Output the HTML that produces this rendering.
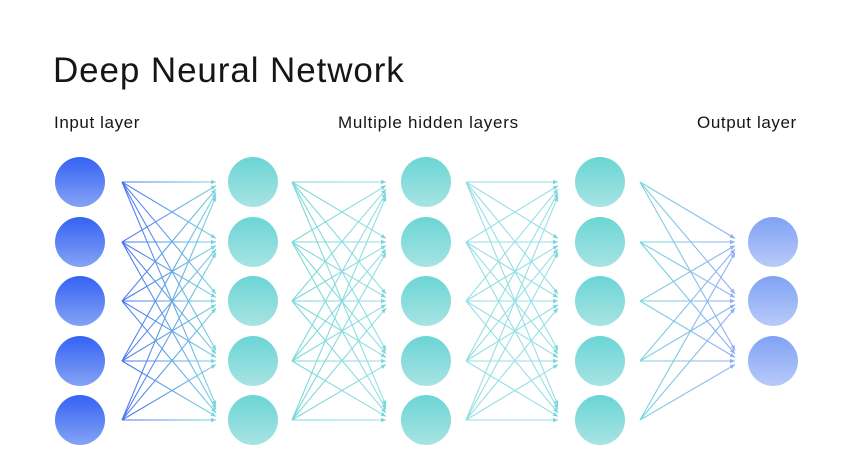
<!DOCTYPE html>
<html><head><style>
html,body{margin:0;padding:0;background:#fff;width:841px;height:476px;overflow:hidden}
</style></head><body>
<svg width="841" height="476" xmlns="http://www.w3.org/2000/svg" font-family="Liberation Sans, sans-serif">
<defs>
<linearGradient id="gi" x1="0" y1="0" x2="0" y2="1"><stop offset="0" stop-color="#3462f4"/><stop offset="1" stop-color="#85a3f5"/></linearGradient>
<linearGradient id="gh" x1="0" y1="0" x2="0" y2="1"><stop offset="0" stop-color="#6bd5d5"/><stop offset="1" stop-color="#a8e3e3"/></linearGradient>
<linearGradient id="go" x1="0" y1="0" x2="0" y2="1"><stop offset="0" stop-color="#80a2f5"/><stop offset="1" stop-color="#b8caf8"/></linearGradient>
<linearGradient id="l1" gradientUnits="userSpaceOnUse" x1="122" y1="0" x2="216" y2="0"><stop offset="0" stop-color="#4a72f4"/><stop offset="1" stop-color="#7ad6dc"/></linearGradient>
<linearGradient id="l2" gradientUnits="userSpaceOnUse" x1="292" y1="0" x2="386" y2="0"><stop offset="0" stop-color="#78d8d8"/><stop offset="1" stop-color="#96dfe5"/></linearGradient>
<linearGradient id="l4" gradientUnits="userSpaceOnUse" x1="640" y1="0" x2="735" y2="0"><stop offset="0" stop-color="#7ad6dc"/><stop offset="1" stop-color="#90adf6"/></linearGradient>
</defs>
<text x="53" y="82" font-size="35" letter-spacing="0.9" fill="#161616">Deep Neural Network</text>
<text x="54" y="128" font-size="17" letter-spacing="0.6" fill="#161616">Input layer</text>
<text x="338" y="128" font-size="17" letter-spacing="0.75" fill="#161616">Multiple hidden layers</text>
<text x="697" y="128" font-size="17" letter-spacing="0.6" fill="#161616">Output layer</text>
<g id="edges"></g>
<g id="nodes"></g>
</svg>
<script>
const ns="http://www.w3.org/2000/svg";
const five=[182,242,301,361,420], three=[242,301,361];
const E=document.getElementById('edges'),N=document.getElementById('nodes');
function line(x1,y1,x2,y2,col){
 const l=document.createElementNS(ns,'line');
 l.setAttribute('x1',x1);l.setAttribute('y1',y1);l.setAttribute('x2',x2);l.setAttribute('y2',y2);
 l.setAttribute('stroke',col);l.setAttribute('stroke-width','1.1');E.appendChild(l);
 const a=Math.atan2(y2-y1,x2-x1),s=5;
 const p=document.createElementNS(ns,'polygon');
 const bx=x2-s*Math.cos(a),by=y2-s*Math.sin(a),px=-Math.sin(a)*2.2,py=Math.cos(a)*2.2;
 p.setAttribute('points',`${x2},${y2} ${bx+px},${by+py} ${bx-px},${by-py}`);
 p.setAttribute('fill',x2>700?'#90adf6':'#7ad6dc');E.appendChild(p);
}
function layer(xs,xe,src,dst,col){
 src.forEach((sy,i)=>dst.forEach((ty,j)=>{
  const ey=ty+(sy-ty)*0.06;
  line(xs,sy,xe,ey,col);
 }));
}
layer(122,216,five,five,'url(#l1)');
layer(292,386,five,five,'url(#l2)');
layer(466,558,five,five,'url(#l2)');
layer(640,735,five,three,'url(#l4)');
function circ(x,y,g){const c=document.createElementNS(ns,'circle');c.setAttribute('cx',x);c.setAttribute('cy',y);c.setAttribute('r',25);c.setAttribute('fill',g);N.appendChild(c);}
five.forEach(y=>{circ(80,y,'url(#gi)');circ(253,y,'url(#gh)');circ(426,y,'url(#gh)');circ(600,y,'url(#gh)');});
three.forEach(y=>circ(773,y,'url(#go)'));
</script>
</body></html>
